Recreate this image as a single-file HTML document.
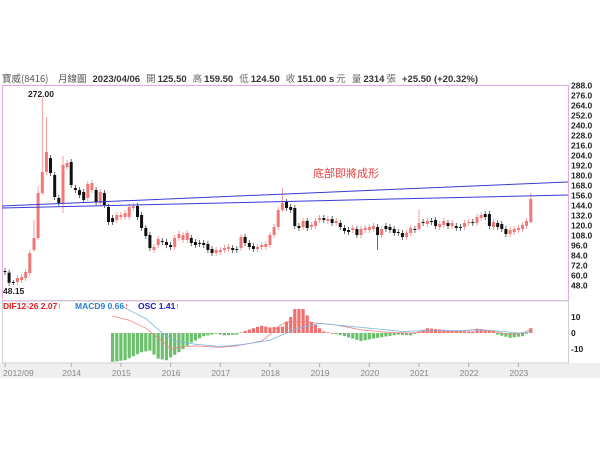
<!DOCTYPE html>
<html><head><meta charset="utf-8">
<style>
html,body{margin:0;padding:0;background:#fff;width:600px;height:450px;overflow:hidden}
svg{display:block}
text{font-family:"Liberation Sans","DejaVu Sans","Noto Sans CJK TC",sans-serif}
</style></head><body>
<svg id="s" width="600" height="450" viewBox="0 0 600 450" xmlns="http://www.w3.org/2000/svg">
<rect x="0" y="363" width="600" height="15" fill="#efefef"/>
<rect x="2.5" y="85.5" width="566" height="215" fill="#fff" stroke="#e6a8e6" stroke-width="1"/>
<rect x="2.5" y="301" width="566" height="62" fill="#fff" stroke="#d0d0d0" stroke-width="1"/>
<text x="2" y="82" font-size="9.5" fill="#333"><tspan font-family="Noto Sans CJK TC,sans-serif" fill="#555">寶威(8416)　月線圖</tspan><tspan font-weight="bold" dx="6">2023/04/06</tspan><tspan font-family="Noto Sans CJK TC,sans-serif" fill="#666" dx="6">開</tspan><tspan font-weight="bold" dx="2">125.50</tspan><tspan font-family="Noto Sans CJK TC,sans-serif" fill="#666" dx="6">高</tspan><tspan font-weight="bold" dx="2">159.50</tspan><tspan font-family="Noto Sans CJK TC,sans-serif" fill="#666" dx="6">低</tspan><tspan font-weight="bold" dx="2">124.50</tspan><tspan font-family="Noto Sans CJK TC,sans-serif" fill="#666" dx="6">收</tspan><tspan font-weight="bold" dx="2">151.00 s</tspan><tspan font-family="Noto Sans CJK TC,sans-serif" fill="#666" dx="2">元</tspan><tspan font-family="Noto Sans CJK TC,sans-serif" fill="#666" dx="6">量</tspan><tspan font-weight="bold" dx="2">2314</tspan><tspan font-family="Noto Sans CJK TC,sans-serif" fill="#666" dx="2">張</tspan><tspan font-weight="bold" dx="6">+25.50 (+20.32%)</tspan></text>
<g id="g"></g>
<line x1="2" y1="206" x2="568" y2="182" stroke="#3a3ad8" stroke-width="1"/>
<line x1="2" y1="208" x2="568" y2="195" stroke="#3a3ad8" stroke-width="1"/>
<text x="313" y="177" font-size="11" fill="#e84040" font-family="Noto Sans CJK TC,sans-serif">底部即將成形</text>
<text x="28" y="97" font-size="8.5" font-weight="bold" fill="#222">272.00</text>
<text x="3" y="294" font-size="8.5" font-weight="bold" fill="#222">48.15</text>
<text x="3" y="309" font-size="8.5" font-weight="bold" fill="#e02020">DIF12-26 2.07↑</text>
<text x="75" y="309" font-size="8.5" font-weight="bold" fill="#2a7fd0">MACD9 0.66<tspan fill="#e02020">↑</tspan></text>
<text x="138" y="309" font-size="8.5" font-weight="bold" fill="#1a1ad0">OSC 1.41<tspan fill="#e02020">↑</tspan></text>
<text x="571" y="320" font-size="8.5" font-weight="bold" fill="#222">10</text>
<text x="571" y="336" font-size="8.5" font-weight="bold" fill="#222">0</text>
<text x="571" y="352" font-size="8.5" font-weight="bold" fill="#222">-10</text>
</svg>
<script>
var g=document.getElementById('g'),NS='http://www.w3.org/2000/svg',h='';
function X(i){return 5+i*4.14}
// right axis
for(var v=288;v>=48;v-=12){var y=85.7+(288-v)*0.8333;h+='<text x="571" y="'+(y+3).toFixed(1)+'" font-size="8.5" font-weight="bold" fill="#222">'+v.toFixed(1)+'</text>';}
// x axis
var yrs=[[0,'2012/09'],[16,'2014'],[28,'2015'],[40,'2016'],[52,'2017'],[64,'2018'],[76,'2019'],[88,'2020'],[100,'2021'],[112,'2022'],[124,'2023']];
yrs.forEach(function(a){var x=X(a[0]);h+='<line x1="'+x+'" y1="363" x2="'+x+'" y2="367" stroke="#aaa"/>';h+='<text x="'+(a[0]==0?3:x-9)+'" y="376" font-size="8.5" fill="#888">'+a[1]+'</text>';});
var C=[[271,272,'k',268,275],[272.7,282.7,'k'],[282,283,'k',280,285],[278,282,'r'],[277,280,'r'],[272,278,'r'],[253,273,'r'],[238,250,'r',220,252],[193,238,'r',186,240],[172,193,'r',98,195],[152,172,'r',117,175],[158,173,'k'],[175,197,'k'],[198,203,'k'],[165,203,'r',156,213],[163,167,'r'],[162,185,'k'],[188,190,'k'],[190,195,'k'],[192,200,'k'],[184,198,'r'],[183,190,'r'],[190,202,'k'],[192,203,'r'],[193,205,'k'],[207,222,'k'],[218,222,'k'],[215,220,'r'],[215,217,'r'],[213,217,'r'],[207,217,'r'],[206,208,'r'],[206,217,'k'],[215,228,'k'],[228,236,'k'],[235,248,'k'],[247,250,'r'],[239,245,'r'],[241,242,'k'],[242,245,'k'],[245,247,'k'],[238,247,'r'],[234,238,'r'],
[235,240,'r'],[233,240,'r'],[238,243,'k'],[242,245,'k'],[243,244,'k'],[243,245,'k'],[244,250,'k'],[249,253,'k'],[250,253,'r'],[250,252,'r'],[248,250,'r'],[247,249,'r'],[248,250,'k'],[249,250,'k'],[237,248,'r'],[237,243,'k'],[243,247,'k'],[246,249,'k'],[247,249,'r'],[245,247,'r'],[244,247,'r'],[235,245,'r'],[227,235,'r'],[210,227,'r'],[203,210,'r',188,212],[202,208,'k'],[207,210,'k'],[208,226,'k'],[226,228,'k'],[221,227,'r'],[221,228,'k'],[225,227,'r'],[221,226,'r'],[218,220,'r'],[218,220,'k'],[219,221,'r'],[219,223,'k'],[221,223,'r'],[223,227,'k'],[228,231,'k'],[230,232,'k'],[228,230,'r'],[229,235,'k'],[229,235,'r'],[228,230,'r'],[227,230,'r'],[226,229,'r'],[227,235,'k',224,250],
[229,235,'r'],[226,229,'k'],[227,230,'k'],[229,233,'k'],[232,233,'k'],[233,237,'k'],[233,237,'r'],[228,233,'r'],[229,230,'k'],[223,229,'r',209,231],[222,223,'k'],[221,224,'r'],[221,222,'k'],[220,226,'k'],[224,227,'r'],[221,225,'r'],[223,226,'k'],[223,226,'r'],[226,228,'k'],[227,228,'k'],[223,227,'r'],[222,223,'r'],[222,223,'k'],[217,223,'r'],[215,218,'r'],[214,217,'k'],[214,226,'k'],[222,227,'r'],[223,227,'k'],[224,229,'k'],[229,234,'k'],[230,234,'r'],[229,232,'r'],[228,230,'r'],[225,229,'r'],[221,226,'r'],[199,222,'r',193,223]];
C.forEach(function(c,i){var x=X(i),col=c[2]=='r'?'#f07878':'#111';var wt=c[3]||c[0]-3,wb=c[4]||c[1]+3;
h+='<line x1="'+x.toFixed(1)+'" y1="'+wt+'" x2="'+x.toFixed(1)+'" y2="'+wb+'" stroke="'+(c[2]=='r'?'#f08888':'#444')+'" stroke-width="0.8"/>';
h+='<rect x="'+(x-1.5).toFixed(1)+'" y="'+c[0]+'" width="3" height="'+Math.max(1,c[1]-c[0])+'" fill="'+col+'"/>';});
function interp(k,i){for(var j=0;j<k.length-1;j++){if(i>=k[j][0]&&i<=k[j+1][0]){var t=(i-k[j][0])/(k[j+1][0]-k[j][0]);return k[j][1]+t*(k[j+1][1]-k[j][1]);}}return k[k.length-1][1];}
var O=[[26,-18],[29,-17],[33,-12],[35,-11],[37,-16],[39,-17],[42,-12],[45,-6],[48,-2],[51,-0.5],[53,-1.5],[56,-1],[57,0.5],[60,3],[62,4.5],[64,3.5],[67,4],[69,10],[70,15],[72,15],[74,7],[77,1],[79,0],[82,-2],[86,-5],[90,-3],[95,-1],[98,-1.5],[100,1],[102,3],[106,2],[110,1],[113,1],[115,2.5],[118,1],[119,-1],[122,-3],[125,-2],[126,-0.5],[127,3]];
for(var i=26;i<=127;i++){var v=interp(O,i),x=X(i),y0=333,y1=333-v*1.6;h+='<rect x="'+(x-1.6).toFixed(1)+'" y="'+Math.min(y0,y1).toFixed(1)+'" width="3.2" height="'+Math.max(0.8,Math.abs(y1-y0)).toFixed(1)+'" fill="'+(v>=0?'#f07070':'#6cc06c')+'"/>';}
var D=[[26,10.6],[30,8],[34,3],[38,-5],[40,-10],[42,-9],[46,-8],[52,-9],[56,-8],[62,-5],[64,-1],[66,4],[68,7],[72,7],[76,6],[80,5],[86,2],[92,0.5],[98,0],[104,1.5],[110,1],[114,2.5],[118,1],[122,-1],[125,0],[127,2]];
var M=[[28,17],[34,9],[38,0],[41,-5],[46,-7],[52,-8.5],[58,-7],[64,-4.5],[68,0],[71,3],[76,6],[80,5],[88,3],[96,1],[102,1.5],[110,1.5],[114,2],[118,1.5],[124,0],[127,0.7]];
function line(k,a,b,col){var p=[];for(var i=a;i<=b;i++)p.push(X(i).toFixed(1)+','+(333-interp(k,i)*1.6).toFixed(1));h+='<polyline points="'+p.join(' ')+'" fill="none" stroke="'+col+'" stroke-width="0.8"/>';}
line(D,26,127,'#f08080');line(M,28,127,'#7ab8e0');
g.innerHTML=h;
</script>
</body></html>
